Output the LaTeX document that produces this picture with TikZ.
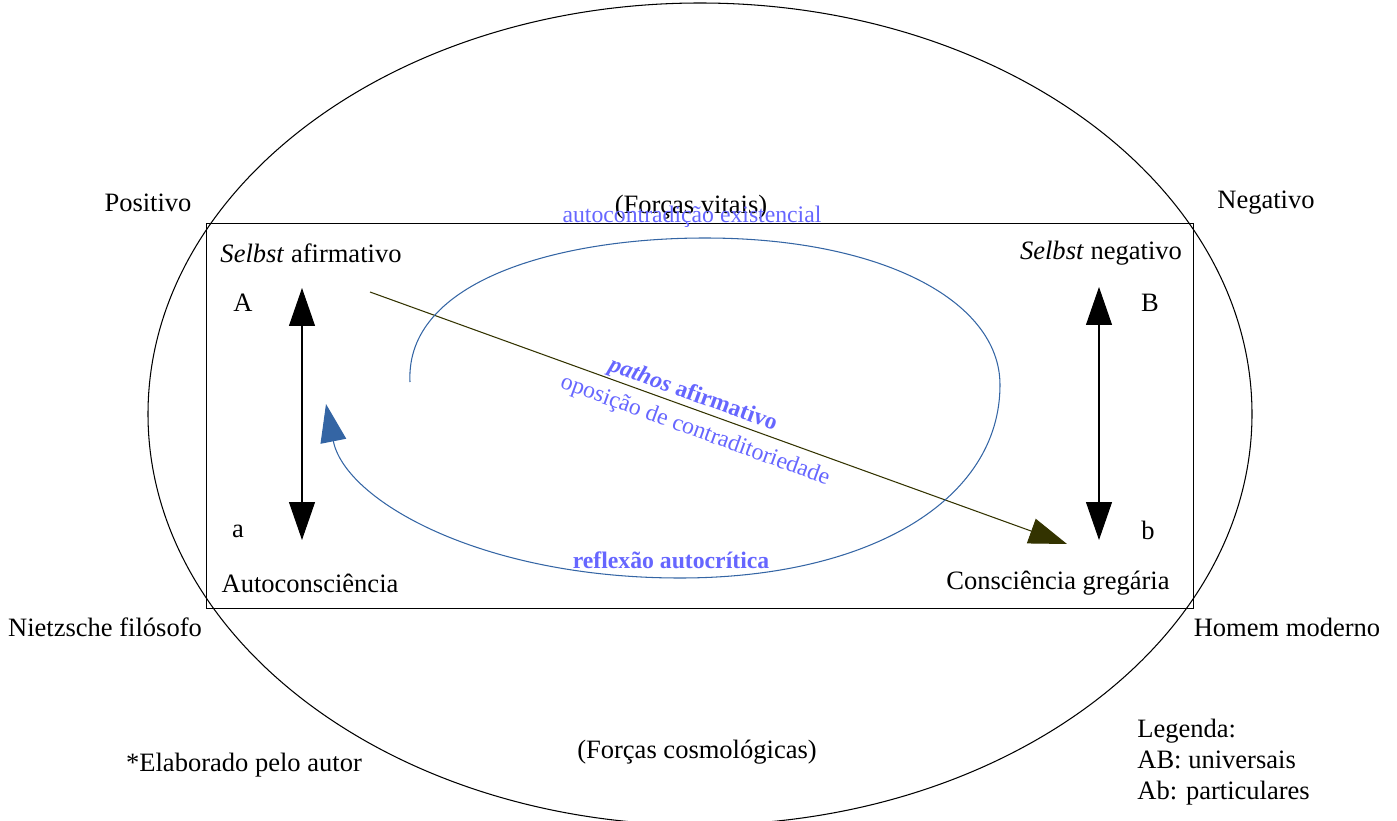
\documentclass[tikz,border=0pt]{standalone}
\usepackage{fontspec}
\setmainfont{Liberation Serif}
\usetikzlibrary{arrows.meta}
\definecolor{curveblue}{RGB}{52,101,164}
\definecolor{labelblue}{RGB}{102,102,255}
\definecolor{darkolive}{RGB}{51,51,0}

\begin{document}
\begin{tikzpicture}[x=0.02cm,y=-0.02cm,line width=0.6pt,
    >={Triangle[length=0.76cm,width=0.52cm]},
    lbl/.style={font=\fontsize{15.1}{17.6}\selectfont},
    blbl/.style={font=\fontsize{13.5}{16}\selectfont,text=labelblue,inner sep=0pt}]
      \useasboundingbox (0,0) rectangle (1397,821);

      % Ellipse and frame
        \draw (700,414) ellipse [x radius=552, y radius=411];
        \draw[line width=0.5pt] (206,223) rectangle (1193,608);

      % Outer labels
        \node[lbl] (pos) at (148,203) {Positivo};
        \node[lbl] (neg) at (1266,203) {Negativo};
        \node[lbl] (nietz) at (105,627) {Nietzsche filósofo};
        \node[lbl] (homem) at (1287,627) {Homem moderno};
        \node[lbl] (vitais) at (691,207) {(Forças vitais)};
        \node[blbl] (autocontr) at (692,217) {autocontradição existencial};
        \node[lbl] (cosmo) at (697,752) {(Forças cosmológicas)};
        \node[lbl] (elab) at (244,765) {*Elaborado pelo autor};
        \node[lbl, align=left, anchor=west] (leg) at (1131,762) {Legenda:\\AB: universais\\Ab: particulares};

      % Inner labels
        \node[lbl] (selA) at (311,253) {\textit{Selbst} afirmativo};
        \node[lbl] (selB) at (1101,253) {\textit{Selbst} negativo};
        \node[lbl] (A) at (243,303) {A};
        \node[lbl] (B) at (1150,303) {B};
        \node[lbl] (a) at (238,531) {a};
        \node[lbl] (b) at (1148,530) {b};
        \node[lbl] (autoc) at (310,583) {Autoconsciência};
        \node[lbl] (greg) at (1058,583) {Consciência gregária};

      % Arrow ends
        \coordinate (Atop) at (302,288);
        \coordinate (abot) at (302,540);
        \coordinate (Btop) at (1099,287);
        \coordinate (bbot) at (1099,540);
        \coordinate (dstart) at (370,292);
        \coordinate (dend) at (1067,544);
        \coordinate (cstart) at (410,382);
        \coordinate (ctip) at (326,404);

        \draw [<->] (Atop) -- (abot);
        \draw [<->] (Btop) -- (bbot);
        \draw [->, darkolive] (dstart) -- (dend);
        \draw [->, curveblue] (cstart) .. controls (405,280) and (560,238) .. (705,238)
              .. controls (880,238) and (1000,300) .. (1000,385)
              .. controls (1000,500) and (870,578) .. (680,578)
              .. controls (480,578) and (345,500) .. (ctip);

      % Blue labels
        \node[blbl, rotate=-20] (pathos) at (693,395) {\textbf{\textit{pathos} afirmativo}};
        \node[blbl, rotate=-20] (oposicao) at (695,431) {oposição de contraditoriedade};
        \node[blbl] (reflex) at (671,560) {\textbf{reflexão autocrítica}};

    \end{tikzpicture}
\end{document}
